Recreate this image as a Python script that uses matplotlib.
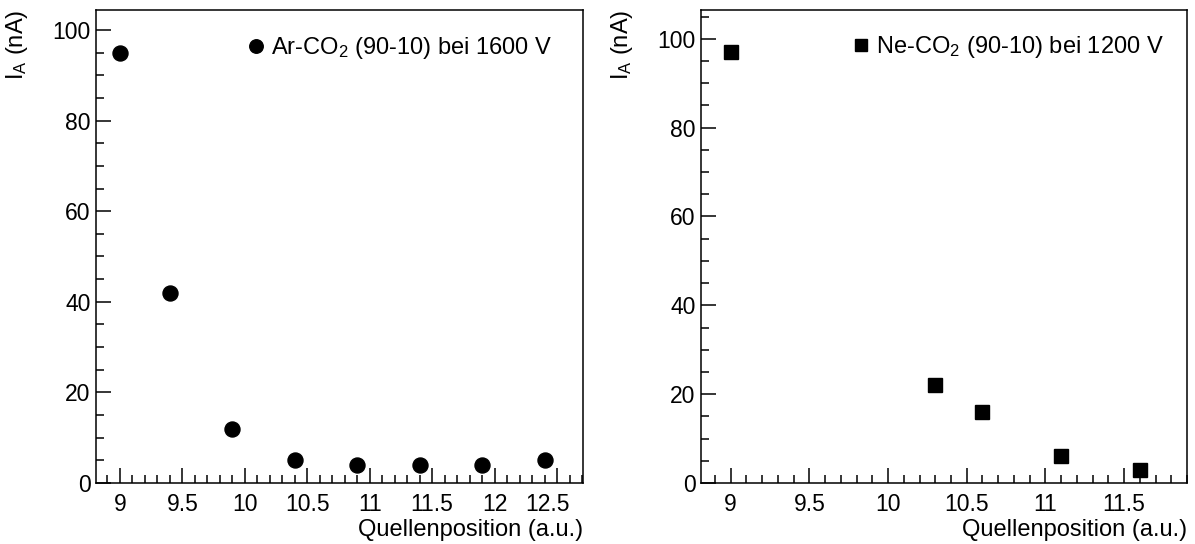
import matplotlib
matplotlib.use("Agg")
import matplotlib.pyplot as plt
import matplotlib.transforms as mtransforms
from matplotlib.ticker import MultipleLocator

plt.rcParams['font.family'] = ['Liberation Sans', 'DejaVu Sans']
plt.rcParams['mathtext.default'] = 'regular'

# Data
ar_x = [9.0, 9.4, 9.9, 10.4, 10.9, 11.4, 11.9, 12.4]
ar_y = [95, 42, 12, 5, 4, 4, 4, 5]
ne_x = [9.0, 10.3, 10.6, 11.1, 11.6]
ne_y = [97, 22, 16, 6, 3]
ar_label = "Ar-CO$_2$ (90-10) bei 1600 V"
ne_label = "Ne-CO$_2$ (90-10) bei 1200 V"
xlabel = "Quellenposition (a.u.)"
ylabel = "I$_A$ (nA)"

W, H = 1195, 544
fig = plt.figure(figsize=(W / 100, H / 100), dpi=100)

def px_axes(x0, y_top, x1, y_bot):
    return fig.add_axes([x0 / W, 1 - y_bot / H, (x1 - x0) / W, (y_bot - y_top) / H])

ax1 = px_axes(96, 10, 583, 483)
ax2 = px_axes(701, 9.5, 1187, 483)

ax1.plot(ar_x, ar_y, linestyle='none', marker='o', color='black', markersize=10.8, label=ar_label)
ax2.plot(ne_x, ne_y, linestyle='none', marker='s', color='black', markersize=9.5, label=ne_label)

ax1.set_xlim(8.808, 12.708)
ax1.set_ylim(0, 104.4)
ax2.set_xlim(8.811, 11.90)
ax2.set_ylim(0, 106.6)

FS = 16.5
for ax in (ax1, ax2):
    ax.xaxis.set_major_locator(MultipleLocator(0.5))
    ax.xaxis.set_minor_locator(MultipleLocator(0.1))
    ax.yaxis.set_major_locator(MultipleLocator(20))
    ax.yaxis.set_minor_locator(MultipleLocator(5))
    ax.xaxis.set_major_formatter(matplotlib.ticker.FuncFormatter(lambda v, p: ('%g' % v)))
    ax.tick_params(axis='both', which='both', direction='in', top=False, right=False,
                   labelsize=FS, width=1.1, color='black')
    ax.tick_params(axis='both', which='major', length=10.5)
    ax.tick_params(axis='both', which='minor', length=5.5)
    ax.tick_params(axis='x', which='major', pad=7)
    ax.tick_params(axis='y', which='major', pad=4)
    for s in ax.spines.values():
        s.set_linewidth(1.1)
    ax.set_xlabel(xlabel, fontsize=17, loc='right')
    ax.xaxis.set_label_coords(1.0, -0.076)
    ax.set_ylabel(ylabel, fontsize=17, loc='top')
    ax.yaxis.set_label_coords(-0.135, 1.0)
    ax.legend(loc='center left', bbox_to_anchor=(0.304, 0.92), frameon=False,
              fontsize=17, borderpad=0, borderaxespad=0, handlelength=1.0,
              handletextpad=0.15, markerscale=0.9)

# shift the last x tick label of the left panel inward, as in the reference
fig.canvas.draw()
for lbl in ax1.get_xticklabels():
    if lbl.get_text() == '12.5':
        lbl.set_transform(lbl.get_transform() + mtransforms.ScaledTranslation(-10 / 100, 0, fig.dpi_scale_trans))

fig.savefig("out.png", dpi=100)
